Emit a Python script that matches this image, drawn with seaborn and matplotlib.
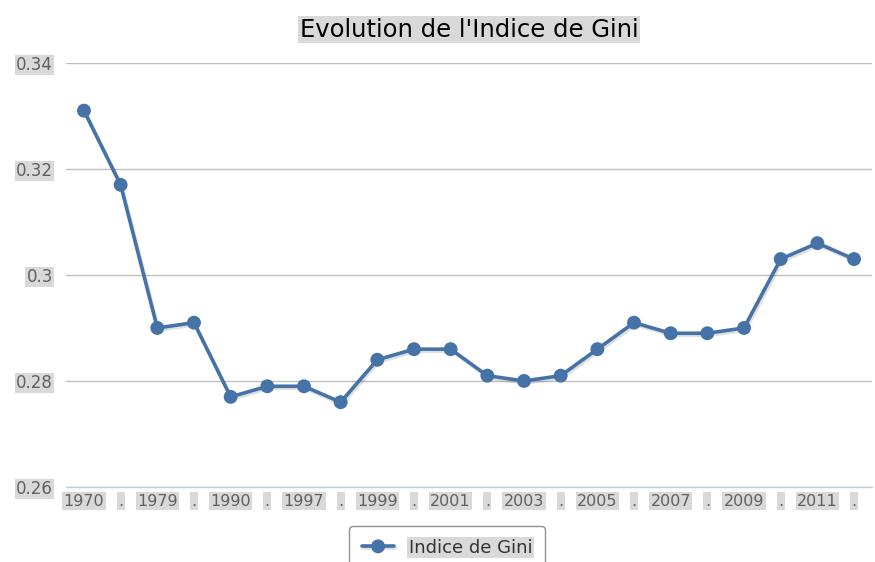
import matplotlib
matplotlib.use("Agg")
import matplotlib.pyplot as plt
import matplotlib.patheffects as pe
import seaborn as sns
import pandas as pd

# data
labels = ["1970", ".", "1979", ".", "1990", ".", "1997", ".", "1999", ".", "2001",
          ".", "2003", ".", "2005", ".", "2007", ".", "2009", ".", "2011", "."]
gini = [0.331, 0.317, 0.290, 0.291, 0.277, 0.279, 0.279, 0.276, 0.284, 0.286, 0.286,
        0.281, 0.280, 0.281, 0.286, 0.291, 0.289, 0.289, 0.290, 0.303, 0.306, 0.303]
y_ticks = [0.26, 0.28, 0.3, 0.32, 0.34]
y_tick_labels = ["0.26", "0.28", "0.3", "0.32", "0.34"]

df = pd.DataFrame({"pos": range(len(labels)), "gini": gini, "serie": "Indice de Gini"})

sns.set_style("white")
plt.rcParams["font.family"] = ["DejaVu Sans"]

fig = plt.figure(figsize=(8.75, 5.62), dpi=100)
ax = fig.add_axes([0.075, 0.1335, 0.922, 0.7545])

blue = "#4572A7"
ax = sns.lineplot(data=df, x="pos", y="gini", hue="serie", palette=[blue], ax=ax,
                  marker="o", markersize=10, markeredgewidth=0, linewidth=2.6,
                  legend=True)
for line in ax.get_lines():
    line.set_path_effects([pe.SimpleLineShadow(offset=(1, -1.5), shadow_color="black", alpha=0.12),
                           pe.Normal()])

ax.set_xlim(-0.5, len(labels) - 0.5)
ax.set_ylim(0.26, 0.34)
ax.set_xlabel("")
ax.set_ylabel("")

# grid lines
ax.set_yticks(y_ticks)
ax.yaxis.grid(True, color="#C0C0C0", linewidth=1)
ax.set_axisbelow(True)
for s in ["top", "right", "left"]:
    ax.spines[s].set_visible(False)
ax.spines["bottom"].set_color("#C0D0E0")
ax.spines["bottom"].set_linewidth(1)

ax.set_yticklabels(y_tick_labels, color="#606060", fontsize=12)
ax.tick_params(axis="y", length=0, pad=9)
for t in ax.get_yticklabels():
    t.set_bbox(dict(facecolor="#D9D9D9", edgecolor="none", pad=1))

# categories with ticks on the boundaries
ax.set_xticks(range(len(labels)))
ax.set_xticklabels(labels, color="#606060", fontsize=11.5)
ax.tick_params(axis="x", which="major", length=0, pad=5)
ax.set_xticks([i - 0.5 for i in range(len(labels) + 1)], minor=True)
ax.tick_params(axis="x", which="minor", length=4, color="#C0D0E0", width=1)
for t in ax.get_xticklabels():
    t.set_bbox(dict(facecolor="#D9D9D9", edgecolor="none", pad=1))

ax.set_title("Evolution de l'Indice de Gini", fontsize=17.5, color="black", pad=19,
             bbox=dict(facecolor="#D9D9D9", edgecolor="none", pad=1))

ax.legend_.remove()
handles, leg_labels = ax.get_legend_handles_labels()
leg = fig.legend(handles, leg_labels, loc="upper center", bbox_to_anchor=(0.511, 0.064),
                 frameon=True, fancybox=True, fontsize=13, handlelength=1.8,
                 borderpad=0.7, borderaxespad=0, edgecolor="#909090", framealpha=1)
leg.get_frame().set_linewidth(1)
for t in leg.get_texts():
    t.set_bbox(dict(facecolor="#D9D9D9", edgecolor="none", pad=1))
    t.set_color("#333333")

fig.savefig("out.png", dpi=100)
